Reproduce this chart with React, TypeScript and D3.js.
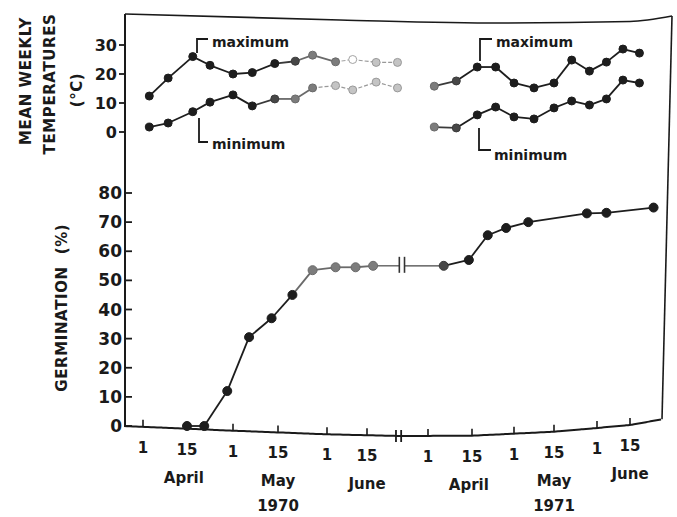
import React from 'react';
import * as d3 from 'd3';

// Days counted from 1 April of each year
const tempDays1970 = [2, 8, 16, 22, 30, 36, 43, 50, 56, 64, 70, 78, 85];
const maxTemp1970 = [12.4, 18.6, 26, 23, 20, 20.5, 23.6, 24.4, 26.5, 24.2, 25, 24, 24];
const minTemp1970 = [1.7, 3.1, 7, 10.3, 12.8, 9, 11.4, 11.4, 15.2, 16, 14.5, 17.2, 15.2];

const tempDays1971 = [2, 9, 16, 23, 30, 37, 44, 51, 58, 65, 72, 79];
const maxTemp1971 = [15.8, 17.6, 22.4, 22.4, 16.9, 15.2, 16.9, 24.8, 21, 24.1, 28.6, 27.2];
const minTemp1971 = [1.7, 1.4, 5.9, 8.6, 5.2, 4.5, 8.3, 10.7, 9.3, 11.4, 17.9, 16.9];

const germDays1970 = [14, 20, 28, 35, 42, 49, 56, 64, 71, 77];
const germination1970 = [0, 0, 12, 30.5, 37, 45, 53.5, 54.5, 54.5, 55];
const germDays1971 = [5, 13, 20, 27, 35, 57, 65, 85];
const germination1971 = [55, 57, 65.5, 68, 70, 73, 73.2, 75];

const tempTicks = [0, 10, 20, 30];
const germTicks = [0, 10, 20, 30, 40, 50, 60, 70, 80];
const dayTicks = [0, 14, 30, 44, 61, 75];
const dayTickLabels = ['1', '15', '1', '15', '1', '15'];
const monthNames = ['April', 'May', 'June'];
const monthDays = [13, 44, 75];
const yearNames = ['1970', '1971'];
const yearDay = 44;
const yearOffsets = [0, 95];

const W = 677;
const H = 517;
const FONT = '"DejaVu Sans", sans-serif';

const TONES: Record<string, { fill: string; stroke: string }> = {
  k: { fill: '#1d1d1d', stroke: '#1d1d1d' },
  d: { fill: '#474747', stroke: '#3a3a3a' },
  g: { fill: '#7c7c7c', stroke: '#6a6a6a' },
  l: { fill: '#c4c4c4', stroke: '#999999' },
  o: { fill: '#ffffff', stroke: '#a3a3a3' },
};

export default function App() {
  // x: piecewise (scanned figure, compressed to the right) with a break between years
  const x = d3
    .scaleLinear()
    .domain([0, 14, 30, 44, 61, 75, 95, 109, 125, 139, 156, 170])
    .range([143, 187, 233, 278, 327, 367, 428, 472, 514, 554, 597, 630]);
  const yT = d3.scaleLinear().domain([0, 30]).range([132, 45]);
  const yG = d3.scaleLinear().domain([0, 80]).range([426, 193]);
  // bottom frame of the (curled) page
  const base = d3
    .scaleLinear()
    .domain([124, 233, 327, 400, 472, 554, 597, 630, 662])
    .range([426, 430.7, 434.3, 436, 435.7, 431.7, 428, 425, 419.3]);

  const AX = 125;
  const line = d3.line<[number, number]>();
  const curve = d3.line<[number, number]>().curve(d3.curveMonotoneX);

  const bottomPts: [number, number][] = d3.range(124, 663, 3).map((v) => [v, base(v)] as [number, number]);
  const topPts: [number, number][] = [
    [AX, 14],
    [340, 20],
    [500, 23],
    [630, 21.5],
    [672, 16],
  ];

  const toneMax70 = (i: number) => (i < 7 ? 'k' : i === 7 ? 'd' : i < 10 ? 'g' : i === 10 ? 'o' : 'l');
  const toneMin70 = (i: number) => (i < 6 ? 'k' : i === 6 ? 'd' : i < 9 ? 'g' : 'l');
  const tone71 = (i: number) => (i === 0 ? 'g' : i === 1 ? 'd' : 'k');
  const toneG70 = (i: number) => (i < 6 ? 'k' : 'g');
  const toneG71 = (i: number) => (i === 0 ? 'd' : 'k');

  const series = (
    days: number[],
    vals: number[],
    off: number,
    ys: (v: number) => number,
    tone: (i: number) => string,
    r: number,
    key: string
  ) => {
    const pts: [number, number][] = days.map((d, i) => [x(d + off), ys(vals[i])]);
    return (
      <g key={key}>
        {pts.slice(1).map((p, i) => {
          const t = TONES[tone(i + 1)];
          const light = tone(i + 1) === 'l' || tone(i + 1) === 'o';
          return (
            <path
              key={'s' + i}
              d={line([pts[i], p]) || ''}
              stroke={t.stroke}
              strokeWidth={light ? 1.2 : 1.8}
              strokeDasharray={light ? '4 2' : undefined}
              fill="none"
            />
          );
        })}
        {pts.map((p, i) => {
          const t = TONES[tone(i)];
          return <circle key={'c' + i} cx={p[0]} cy={p[1]} r={r} fill={t.fill} stroke={t.stroke} strokeWidth={1} />;
        })}
      </g>
    );
  };

  const g70Last: [number, number] = [x(germDays1970[germDays1970.length - 1]), yG(germination1970[germination1970.length - 1])];
  const g71First: [number, number] = [x(germDays1971[0] + 95), yG(germination1971[0])];
  const gb1 = x(85.6);
  const gb2 = x(87.3);
  const ab1 = x(84.5);
  const ab2 = x(86.2);

  const tickFont = { fontFamily: FONT, fontSize: 15, fontWeight: 'bold' as const, fill: '#1a1a1a' };

  return (
    <svg width={W} height={H} style={{ position: 'absolute', left: 0, top: 0, background: '#fff' }}>
      <rect width={W} height={H} fill="#fff" />
      {/* frame */}
      <path d={curve(topPts) || ''} fill="none" stroke="#1a1a1a" strokeWidth={1.6} />
      <line x1={AX} y1={14} x2={AX} y2={426} stroke="#1a1a1a" strokeWidth={2} />
      <line x1={672} y1={16} x2={662} y2={419.3} stroke="#1a1a1a" strokeWidth={1.6} />
      <path d={curve(bottomPts) || ''} fill="none" stroke="#1a1a1a" strokeWidth={2} />

      {/* temperature axis */}
      {tempTicks.map((t) => (
        <g key={'tt' + t}>
          <line x1={AX - 6} x2={AX} y1={yT(t)} y2={yT(t)} stroke="#1a1a1a" strokeWidth={1.8} />
          <text x={AX - 8} y={yT(t)} dy="0.36em" textAnchor="end" {...tickFont} fontSize={16}>
            {t}
          </text>
        </g>
      ))}
      {/* germination axis */}
      {germTicks.map((t) => (
        <g key={'gt' + t}>
          <line x1={AX} x2={AX + 7} y1={yG(t)} y2={yG(t)} stroke="#1a1a1a" strokeWidth={1.8} />
          <text x={AX - 3} y={yG(t)} dy="0.36em" textAnchor="end" {...tickFont} fontSize={17}>
            {t}
          </text>
        </g>
      ))}

      {/* x axis ticks and labels */}
      {yearOffsets.map((off, yi) => (
        <g key={'yr' + yi}>
          {dayTicks.map((d, i) => {
            const px = x(d + off);
            const b = base(px);
            return (
              <g key={'xt' + i}>
                <line x1={px} x2={px} y1={b} y2={b - 7} stroke="#1a1a1a" strokeWidth={1.6} />
                <text x={px} y={b + 26} textAnchor="middle" {...tickFont}>
                  {dayTickLabels[i]}
                </text>
              </g>
            );
          })}
          {monthDays.map((d, i) => {
            const px = x(d + off);
            return (
              <text key={'m' + i} x={px} y={base(px) + 54} textAnchor="middle" {...tickFont}>
                {monthNames[i]}
              </text>
            );
          })}
          <text x={x(yearDay + off)} y={base(x(yearDay + off)) + 79} textAnchor="middle" {...tickFont} fontSize={15}>
            {yearNames[yi]}
          </text>
        </g>
      ))}
      {/* axis break */}
      {[ab1, ab2].map((bx, i) => (
        <line key={'ab' + i} x1={bx} x2={bx} y1={base(bx) - 6} y2={base(bx) + 6} stroke="#1a1a1a" strokeWidth={1.8} />
      ))}

      {/* y axis titles */}
      <g {...tickFont} fontSize={15} letterSpacing={0.6}>
        <text transform="translate(31,81) rotate(-90)" textAnchor="middle">MEAN WEEKLY</text>
        <text transform="translate(55,84) rotate(-90)" textAnchor="middle">TEMPERATURES</text>
        <text transform="translate(82,90) rotate(-90)" textAnchor="middle">(°C)</text>
        <text transform="translate(67,329) rotate(-90)" textAnchor="middle">GERMINATION</text>
        <text transform="translate(67,239) rotate(-90)" textAnchor="middle">(%)</text>
      </g>

      {/* temperature series */}
      {series(tempDays1970, maxTemp1970, 0, yT, toneMax70, 4, 'mx70')}
      {series(tempDays1970, minTemp1970, 0, yT, toneMin70, 4, 'mn70')}
      {series(tempDays1971, maxTemp1971, 95, yT, tone71, 4, 'mx71')}
      {series(tempDays1971, minTemp1971, 95, yT, tone71, 4, 'mn71')}

      {/* annotations */}
      <g fill="none" stroke="#1a1a1a" strokeWidth={1.8}>
        <path d={line([[197, 53], [197, 39], [208, 39]]) || ''} />
        <path d={line([[199, 118], [199, 142], [208, 142]]) || ''} />
        <path d={line([[480, 61], [480, 39], [492, 39]]) || ''} />
        <path d={line([[479, 128], [479, 150], [491, 150]]) || ''} />
      </g>
      <g {...tickFont} fontSize={14}>
        <text x={212} y={47}>maximum</text>
        <text x={212} y={149}>minimum</text>
        <text x={496} y={47}>maximum</text>
        <text x={494} y={160}>minimum</text>
      </g>

      {/* germination */}
      <path d={line([g70Last, [gb1, g70Last[1]]]) || ''} stroke="#555" strokeWidth={1.3} fill="none" />
      <path d={line([[gb2, g71First[1]], g71First]) || ''} stroke="#444" strokeWidth={1.3} fill="none" />
      {[gb1, gb2].map((bx, i) => (
        <line key={'gb' + i} x1={bx} x2={bx} y1={yG(55) - 9} y2={yG(55) + 7} stroke="#333" strokeWidth={1.6} />
      ))}
      {series(germDays1970, germination1970, 0, yG, toneG70, 4.5, 'g70')}
      {series(germDays1971, germination1971, 95, yG, toneG71, 4.5, 'g71')}
    </svg>
  );
}
